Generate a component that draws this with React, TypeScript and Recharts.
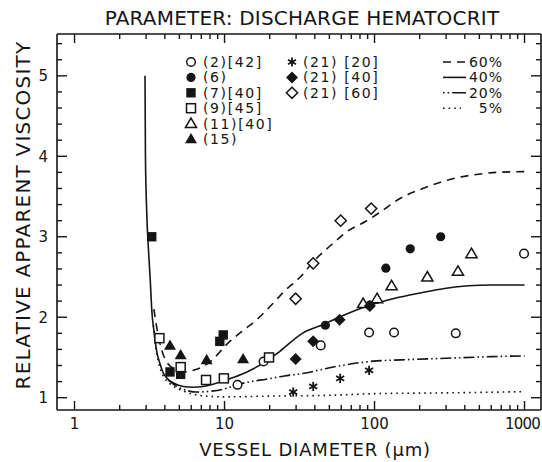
import React from 'react';
import { ComposedChart, Line, Scatter, XAxis, YAxis } from 'recharts';

// vessel diameter (µm) vs relative apparent viscosity
const ref2 = [
  { x: 12.2, y: 1.16 }, { x: 18.2, y: 1.45 }, { x: 43.8, y: 1.65 }, { x: 92, y: 1.81 },
  { x: 135, y: 1.81 }, { x: 348, y: 1.8 }, { x: 993, y: 2.79 },
];
const ref6 = [
  { x: 47, y: 1.9 }, { x: 93, y: 2.15 }, { x: 119, y: 2.61 }, { x: 173, y: 2.85 }, { x: 276, y: 3.0 },
];
const ref7 = [
  { x: 3.27, y: 3.0 }, { x: 4.33, y: 1.32 }, { x: 5.1, y: 1.29 }, { x: 9.3, y: 1.7 }, { x: 9.8, y: 1.78 },
];
const ref9 = [
  { x: 3.68, y: 1.74 }, { x: 5.1, y: 1.38 }, { x: 7.53, y: 1.22 }, { x: 9.9, y: 1.24 }, { x: 19.8, y: 1.5 },
];
const ref11 = [
  { x: 84, y: 2.17 }, { x: 104, y: 2.23 }, { x: 130, y: 2.39 }, { x: 225, y: 2.5 },
  { x: 360, y: 2.57 }, { x: 443, y: 2.79 },
];
const ref15 = [
  { x: 4.33, y: 1.65 }, { x: 5.1, y: 1.53 }, { x: 7.6, y: 1.47 }, { x: 13.3, y: 1.48 },
];
const ref21hct20 = [
  { x: 28.7, y: 1.07 }, { x: 39, y: 1.14 }, { x: 59, y: 1.24 }, { x: 92, y: 1.34 },
];
const ref21hct40 = [
  { x: 29.8, y: 1.48 }, { x: 39, y: 1.7 }, { x: 58.5, y: 1.97 }, { x: 93, y: 2.14 },
];
const ref21hct60 = [
  { x: 29.8, y: 2.23 }, { x: 39, y: 2.67 }, { x: 59.5, y: 3.2 }, { x: 95, y: 3.35 },
];

// model curves, one per discharge hematocrit
const hct60 = [
  { x: 3.38, y: 2.1 }, { x: 3.55, y: 1.85 }, { x: 3.8, y: 1.6 }, { x: 4.1, y: 1.45 },
  { x: 4.6, y: 1.36 }, { x: 5.3, y: 1.32 }, { x: 6.2, y: 1.34 }, { x: 7.2, y: 1.39 },
  { x: 8.3, y: 1.47 }, { x: 10.3, y: 1.66 }, { x: 13, y: 1.82 }, { x: 16.4, y: 1.97 },
  { x: 21, y: 2.17 }, { x: 25, y: 2.32 }, { x: 32, y: 2.5 }, { x: 40, y: 2.71 },
  { x: 53, y: 2.92 }, { x: 65, y: 3.06 }, { x: 87, y: 3.19 }, { x: 110, y: 3.31 },
  { x: 143, y: 3.46 }, { x: 210, y: 3.6 }, { x: 300, y: 3.7 }, { x: 460, y: 3.77 },
  { x: 650, y: 3.8 }, { x: 1000, y: 3.81 },
];
const hct40 = [
  { x: 2.95, y: 5.0 }, { x: 2.97, y: 4.0 }, { x: 3.03, y: 3.3 }, { x: 3.12, y: 2.8 },
  { x: 3.2, y: 2.45 }, { x: 3.27, y: 2.1 }, { x: 3.4, y: 1.8 }, { x: 3.53, y: 1.58 },
  { x: 3.7, y: 1.43 }, { x: 3.9, y: 1.31 }, { x: 4.2, y: 1.23 }, { x: 4.6, y: 1.18 },
  { x: 5.3, y: 1.14 }, { x: 6.2, y: 1.13 }, { x: 7.2, y: 1.14 }, { x: 8.5, y: 1.17 },
  { x: 10.3, y: 1.22 }, { x: 13, y: 1.29 }, { x: 15.6, y: 1.36 }, { x: 20, y: 1.48 },
  { x: 23.5, y: 1.58 }, { x: 33, y: 1.8 }, { x: 47, y: 1.92 }, { x: 58, y: 2.0 },
  { x: 93, y: 2.15 }, { x: 133, y: 2.23 }, { x: 200, y: 2.3 }, { x: 300, y: 2.36 },
  { x: 590, y: 2.4 }, { x: 1000, y: 2.4 },
];
const hct20 = [
  { x: 4.2, y: 1.22 }, { x: 4.8, y: 1.14 }, { x: 5.6, y: 1.09 }, { x: 6.5, y: 1.07 },
  { x: 8, y: 1.08 }, { x: 10, y: 1.11 }, { x: 12, y: 1.16 }, { x: 15, y: 1.2 },
  { x: 19, y: 1.23 }, { x: 25, y: 1.27 }, { x: 33, y: 1.3 }, { x: 56, y: 1.39 },
  { x: 93, y: 1.45 }, { x: 150, y: 1.47 }, { x: 300, y: 1.49 }, { x: 600, y: 1.51 },
  { x: 1000, y: 1.52 },
];
const hct5 = [
  { x: 3.35, y: 1.9 }, { x: 3.5, y: 1.6 }, { x: 3.7, y: 1.38 }, { x: 4.0, y: 1.24 },
  { x: 4.5, y: 1.15 }, { x: 5.2, y: 1.09 }, { x: 6, y: 1.05 }, { x: 7.5, y: 1.02 },
  { x: 10, y: 1.01 }, { x: 20, y: 1.02 }, { x: 50, y: 1.03 }, { x: 100, y: 1.05 },
  { x: 300, y: 1.06 }, { x: 1000, y: 1.075 },
];

const xTicks = [
  1, 2, 3, 4, 5, 6, 7, 8, 9, 10, 20, 30, 40, 50, 60, 70, 80, 90,
  100, 200, 300, 400, 500, 600, 700, 800, 900, 1000,
];
const yTicks = [
  1, 1.2, 1.4, 1.6, 1.8, 2, 2.2, 2.4, 2.6, 2.8, 3, 3.2, 3.4, 3.6, 3.8,
  4, 4.2, 4.4, 4.6, 4.8, 5, 5.2, 5.4,
];

const INK = '#151515';
const FONT = '"DejaVu Sans", sans-serif';
const DASH60 = '8 6';
const DASH20 = '11 3 1.6 3 1.6 3';
const DASH5 = '1.6 4';

const isDecade = (v: number) => Math.abs(Math.log10(v) - Math.round(Math.log10(v))) < 1e-6;
const isInt = (v: number) => Math.abs(v - Math.round(v)) < 1e-6;

function Marker({ kind, cx, cy }: { kind: string; cx: number; cy: number }) {
  const sw = 1.5;
  switch (kind) {
    case 'openCircle':
      return <circle cx={cx} cy={cy} r={4.3} fill="#fff" stroke={INK} strokeWidth={sw} />;
    case 'filledCircle':
      return <circle cx={cx} cy={cy} r={4.6} fill={INK} />;
    case 'filledSquare':
      return <rect x={cx - 4.7} y={cy - 4.7} width={9.4} height={9.4} fill={INK} />;
    case 'openSquare':
      return <rect x={cx - 4.5} y={cy - 4.5} width={9} height={9} fill="#fff" stroke={INK} strokeWidth={sw} />;
    case 'openTriangle':
      return <polygon points={`${cx},${cy - 5.5} ${cx + 5.6},${cy + 4} ${cx - 5.6},${cy + 4}`} fill="#fff" stroke={INK} strokeWidth={sw} />;
    case 'filledTriangle':
      return <polygon points={`${cx},${cy - 6} ${cx + 6},${cy + 4.3} ${cx - 6},${cy + 4.3}`} fill={INK} />;
    case 'filledDiamond':
      return <polygon points={`${cx},${cy - 6} ${cx + 6},${cy} ${cx},${cy + 6} ${cx - 6},${cy}`} fill={INK} />;
    case 'openDiamond':
      return <polygon points={`${cx},${cy - 5.6} ${cx + 5.6},${cy} ${cx},${cy + 5.6} ${cx - 5.6},${cy}`} fill="#fff" stroke={INK} strokeWidth={sw} />;
    case 'asterisk': {
      const r = 4.6;
      return (
        <g stroke={INK} strokeWidth={1.8}>
          <line x1={cx} y1={cy - r} x2={cx} y2={cy + r} />
          <line x1={cx - r * 0.87} y1={cy - r / 2} x2={cx + r * 0.87} y2={cy + r / 2} />
          <line x1={cx - r * 0.87} y1={cy + r / 2} x2={cx + r * 0.87} y2={cy - r / 2} />
        </g>
      );
    }
    default:
      return null;
  }
}

const BottomTick = (props: any) => {
  const { x, y, payload } = props;
  const major = isDecade(payload.value);
  const last = payload.value >= 1000;
  return (
    <g>
      <line x1={x} x2={x} y1={y} y2={y - (major ? 9 : 5)} stroke={INK} strokeWidth={1.4} />
      {major && (
        <text
          x={last ? 540 : x} y={y + 19} textAnchor={last ? 'end' : 'middle'}
          fontSize={15} fontFamily={FONT} fill={INK} letterSpacing={last ? -0.8 : 0}
        >
          {payload.value}
        </text>
      )}
    </g>
  );
};

const TopTick = (props: any) => {
  const { x, y, payload } = props;
  const major = isDecade(payload.value);
  return <line x1={x} x2={x} y1={y} y2={y + (major ? 9 : 5)} stroke={INK} strokeWidth={1.4} />;
};

const LeftTick = (props: any) => {
  const { x, y, payload } = props;
  const major = isInt(payload.value);
  return (
    <g>
      <line x1={x} x2={x + (major ? 10 : 5)} y1={y} y2={y} stroke={INK} strokeWidth={1.4} />
      {major && (
        <text x={x - 9} y={y + 5.5} textAnchor="end" fontSize={15} fontFamily={FONT} fill={INK}>
          {payload.value}
        </text>
      )}
    </g>
  );
};

const RightTick = (props: any) => {
  const { x, y, payload } = props;
  const major = isInt(payload.value);
  return <line x1={x} x2={x - (major ? 10 : 5)} y1={y} y2={y} stroke={INK} strokeWidth={1.4} />;
};

const markerRows = [
  { kind: 'openCircle', label: '(2)[42]' },
  { kind: 'filledCircle', label: '(6)' },
  { kind: 'filledSquare', label: '(7)[40]' },
  { kind: 'openSquare', label: '(9)[45]' },
  { kind: 'openTriangle', label: '(11)[40]' },
  { kind: 'filledTriangle', label: '(15)' },
];
const markerRows2 = [
  { kind: 'asterisk', label: '(21) [20]' },
  { kind: 'filledDiamond', label: '(21) [40]' },
  { kind: 'openDiamond', label: '(21) [60]' },
];
const lineRows = [
  { dash: DASH60, label: '60%' },
  { dash: undefined, label: '40%' },
  { dash: '1.6 3 1.6 3 15 0', label: '20%' },
  { dash: DASH5, label: '5%' },
];

function LegendBlock() {
  const rowY = (i: number) => 62 + i * 15.4;
  const txt = { fontSize: 14, fontFamily: FONT, fill: INK, letterSpacing: 1.6 } as const;
  return (
    <g>
      {markerRows.map((r, i) => (
        <g key={r.label}>
          <Marker kind={r.kind} cx={191} cy={rowY(i)} />
          <text x={203} y={rowY(i) + 5} {...txt}>{r.label}</text>
        </g>
      ))}
      {markerRows2.map((r, i) => (
        <g key={r.label}>
          <Marker kind={r.kind} cx={292} cy={rowY(i)} />
          <text x={303} y={rowY(i) + 5} {...txt}>{r.label}</text>
        </g>
      ))}
      {lineRows.map((r, i) => (
        <g key={r.label}>
          <line
            x1={443} x2={i === 3 ? 461 : 466} y1={rowY(i)} y2={rowY(i)}
            stroke={INK} strokeWidth={1.6} strokeDasharray={r.dash}
          />
          <text x={503} y={rowY(i) + 5} textAnchor="end" {...txt} letterSpacing={1}>{r.label}</text>
        </g>
      ))}
    </g>
  );
}

export default function App() {
  const scatter = (data: { x: number; y: number }[], kind: string) => (
    <Scatter
      data={data}
      isAnimationActive={false}
      shape={(p: any) => <Marker kind={kind} cx={p.cx} cy={p.cy} />}
    />
  );
  const curve = (data: { x: number; y: number }[], dash?: string) => (
    <Line
      data={data}
      dataKey="y"
      type="monotone"
      stroke={INK}
      strokeWidth={1.6}
      strokeDasharray={dash}
      dot={false}
      activeDot={false}
      isAnimationActive={false}
    />
  );

  return (
    <div style={{ position: 'absolute', left: 0, top: 0, width: 542, height: 462, background: '#fff' }}>
      <ComposedChart width={542} height={462} margin={{ top: 33, right: 0, bottom: 22, left: 7 }}>
        <XAxis
          dataKey="x" type="number" scale="log" domain={[0.764, 1288]} allowDataOverflow
          ticks={xTicks} interval={0} height={30} tickSize={0} tickMargin={0}
          tickLine={false} tick={BottomTick} axisLine={{ stroke: INK, strokeWidth: 1.6 }}
        />
        <XAxis
          xAxisId="top" orientation="top" dataKey="x" type="number" scale="log"
          domain={[0.764, 1288]} allowDataOverflow ticks={xTicks} interval={0} height={1}
          tickSize={0} tickMargin={0} tickLine={false} tick={TopTick}
          axisLine={{ stroke: INK, strokeWidth: 1.6 }}
        />
        <YAxis
          dataKey="y" type="number" domain={[0.847, 5.52]} allowDataOverflow ticks={yTicks}
          interval={0} width={50} tickSize={0} tickMargin={0} tickLine={false} tick={LeftTick}
          axisLine={{ stroke: INK, strokeWidth: 1.6 }}
        />
        <YAxis
          yAxisId="right" orientation="right" dataKey="y" type="number" domain={[0.847, 5.52]}
          allowDataOverflow ticks={yTicks} interval={0} width={1} tickSize={0} tickMargin={0}
          tickLine={false} tick={RightTick} axisLine={{ stroke: INK, strokeWidth: 1.6 }}
        />

        {curve(hct60, DASH60)}
        {curve(hct40)}
        {curve(hct20, DASH20)}
        {curve(hct5, DASH5)}

        {scatter(ref2, 'openCircle')}
        {scatter(ref6, 'filledCircle')}
        {scatter(ref7, 'filledSquare')}
        {scatter(ref9, 'openSquare')}
        {scatter(ref11, 'openTriangle')}
        {scatter(ref15, 'filledTriangle')}
        {scatter(ref21hct20, 'asterisk')}
        {scatter(ref21hct40, 'filledDiamond')}
        {scatter(ref21hct60, 'openDiamond')}

        <LegendBlock />

        <text x={302} y={25} textAnchor="middle" fontSize={20} fontFamily={FONT} fill={INK} letterSpacing={0.2}>
          PARAMETER: DISCHARGE HEMATOCRIT
        </text>
        <text
          x={0} y={0} transform="translate(30 215) rotate(-90)" textAnchor="middle"
          fontSize={20} fontFamily={FONT} fill={INK} letterSpacing={1.2}
        >
          RELATIVE APPARENT VISCOSITY
        </text>
        <text x={315} y={456} textAnchor="middle" fontSize={18} fontFamily={FONT} fill={INK} letterSpacing={0.8}>
          VESSEL DIAMETER (μm)
        </text>
      </ComposedChart>
    </div>
  );
}
